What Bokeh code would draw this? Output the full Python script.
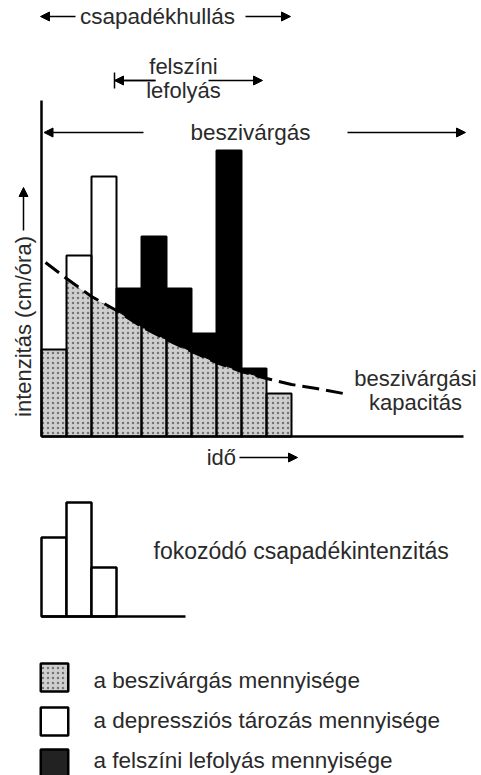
import numpy as np
from bokeh.plotting import figure
from bokeh.models import Range1d, Arrow, NormalHead, TeeHead, Label
from bokeh.embed import file_html
from bokeh.resources import INLINE

# ---- data (intensity in arbitrary units) ----
bar_totals = [8.7, 18.1, 26.0, 14.8, 20.0, 14.8, 10.3, 28.6, 6.8, 4.3]
excess_kind = ["none", "depression", "depression", "runoff", "runoff",
               "runoff", "runoff", "runoff", "runoff", "none"]
cap_t = [0.16, 1, 2, 3, 4, 5, 6, 7, 8, 9, 10, 11, 12.08]
cap_v = [17.4, 15.8, 14.0, 12.6, 11.0, 9.7, 8.5, 7.4, 6.5, 5.8, 5.2, 4.8, 4.3]
small_bars = [7.9, 11.4, 4.9]
legend_labels = ["a beszivárgás mennyisége",
                 "a depressziós tározás mennyisége",
                 "a felszíni lefolyás mennyisége"]

FONT = "Liberation Sans"
TXT = "#2a2a2a"
STIP_FILL = "#cfcfcf"
STIP_DOT = "#747474"

p = figure(width=481, height=775, output_backend="svg", toolbar_location=None,
           x_axis_type=None, y_axis_type=None, min_border=0,
           x_range=Range1d(-1.64, 17.6), y_range=Range1d(-33.9, 43.6))
p.grid.visible = False
p.outline_line_color = None
p.background_fill_color = "white"
p.border_fill_color = "white"

n = len(bar_totals)
edges = np.arange(n + 1, dtype=float)
slope0 = (cap_v[0] - cap_v[1]) / (cap_t[1] - cap_t[0])
cap_at = np.interp(edges, cap_t, cap_v, left=cap_v[0] + slope0 * cap_t[0])

# stipple (infiltration) and excess regions
sx, sy = [], []
wx, wy = [], []
bx, by = [], []
for i, h in enumerate(bar_totals):
    l, r = edges[i], edges[i + 1]
    cl, cr = cap_at[i], cap_at[i + 1]
    sx.append([l, r, r, l])
    if h <= min(cl, cr):
        sy.append([0, 0, h, h])
    else:
        sy.append([0, 0, min(cr, h), min(cl, h)])
        ex = [l, r, r, l]; ey = [cl, cr, h, h]
        if excess_kind[i] == "depression":
            wx.append(ex); wy.append(ey)
        elif excess_kind[i] == "runoff":
            bx.append(ex); by.append(ey)

p.patches(sx, sy, fill_color=STIP_FILL, line_color=None,
          hatch_pattern="dot", hatch_color=STIP_DOT, hatch_scale=5, hatch_weight=1.6)
p.patches(wx, wy, fill_color="white", line_color=None)
p.patches(bx, by, fill_color="black", line_color="black", line_width=1)

# infiltration capacity curve
p.line(cap_t, cap_v, line_color="black", line_width=3, line_dash="17 7")

# bar outlines
p.quad(left=edges[:-1], right=edges[1:], bottom=0, top=bar_totals,
       fill_color=None, line_color="black", line_width=2)

# axes
p.segment(x0=[0, 0], y0=[0, 0], x1=[0, 16.88], y1=[33.6, 0],
          line_color="black", line_width=2.5)

def lab(x, y, text, size="22.5px", align="center", angle=0.0):
    p.add_layout(Label(x=x, y=y, text=text, text_font=FONT, text_font_size=size,
                       text_color=TXT, text_align=align, text_baseline="middle",
                       angle=angle))

def arrow(x0, y0, x1, y1, start=None):
    p.add_layout(Arrow(end=NormalHead(size=9, fill_color="black", line_color="black"),
                       start=start, x_start=x0, y_start=y0, x_end=x1, y_end=y1,
                       line_color="black", line_width=1.5))

# top annotations
lab(4.64, 42.0, "csapadékhullás")
arrow(1.36, 42.0, -0.04, 42.0)
arrow(8.16, 42.0, 9.96, 42.0)

lab(5.68, 37.0, "felszíni", size="22px")
lab(5.68, 34.6, "lefolyás", size="22px")
arrow(4.56, 35.6, 2.92, 35.6)
p.add_layout(Arrow(start=None, end=TeeHead(size=16, line_width=1.5, line_color="black"),
                   x_start=4.56, y_start=35.6, x_end=2.92, y_end=35.6,
                   line_color="black", line_width=1.5))
arrow(6.68, 35.6, 8.84, 35.6)

lab(8.36, 30.4, "beszivárgás")
arrow(4.08, 30.4, 0.1, 30.4)
arrow(12.24, 30.4, 16.96, 30.4)

# y label
lab(-0.72, 11.0, "intenzitás (cm/óra)", size="22px", angle=np.pi / 2)
arrow(-0.72, 20.6, -0.72, 24.9)

# capacity label
lab(14.96, 5.8, "beszivárgási", size="22px")
lab(14.96, 3.4, "kapacitás", size="22px")

# x label
lab(7.78, -2.1, "idő", size="22px", align="right")
arrow(7.92, -2.1, 10.24, -2.1)

# small histogram
sb = -18.0
p.quad(left=edges[:3], right=edges[1:4], bottom=sb, top=[sb + v for v in small_bars],
       fill_color="white", line_color="black", line_width=2.5)
p.segment(x0=[0], y0=[sb], x1=[5.76], y1=[sb], line_color="black", line_width=2.5)
lab(4.48, -11.4, "fokozódó csapadékintenzitás", size="23px", align="left")

# legend
ly = [-24.1, -28.5, -32.7]
lfill = [STIP_FILL, "white", "#222222"]
for k in range(3):
    hatch = "dot" if k == 0 else " "
    p.rect(x=[0.52], y=[ly[k]], width=1.1, height=2.8, fill_color=lfill[k],
           hatch_pattern=hatch, hatch_color=STIP_DOT, hatch_scale=5, hatch_weight=1.6,
           line_color="black", line_width=2.5)
    lab(2.08, [-24.4, -28.4, -32.4][k], legend_labels[k], size="22.5px", align="left")

open("out.html", "w").write(file_html(p, INLINE))
